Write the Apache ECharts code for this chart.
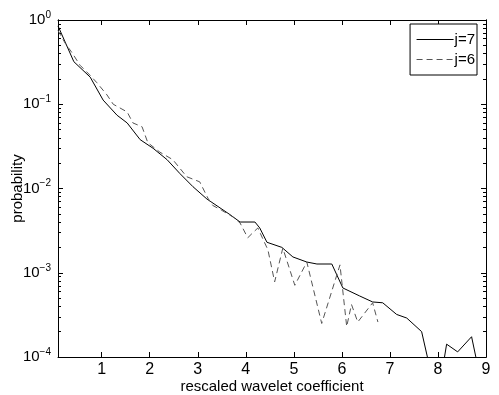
<!DOCTYPE html>
<html>
<head>
<meta charset="utf-8"/>
<title>ECharts</title>
<script src="https://cdn.jsdelivr.net/npm/echarts@6/dist/echarts.min.js"></script>
</head>
<body style="margin:0;background:#fff">
<div id="main" style="width:499px;height:395px;"></div>
<script type="text/javascript">
// values
var j7X = [0.09, 0.42, 0.76, 1.03, 1.32, 1.53, 1.80, 2.07, 2.36, 2.63, 2.90, 3.19, 3.67, 3.88, 4.19, 4.29, 4.44, 4.75, 4.98, 5.27, 5.48, 5.79, 6.02, 6.37, 6.64, 6.85, 7.14, 7.35, 7.66, 7.90, 8.05, 8.18, 8.41, 8.70, 8.90];
var j7Y = [0.85, 0.32, 0.21, 0.112, 0.074, 0.06, 0.038, 0.030, 0.022, 0.015, 0.0105, 0.0075, 0.0049, 0.0040, 0.0040, 0.0034, 0.0023, 0.0020, 0.00154, 0.00134, 0.00127, 0.00127, 0.00066, 0.00053, 0.00045, 0.00044, 0.00032, 0.00029, 0.0002, 0.00005, 0.00005, 0.000142, 0.000115, 0.000174, 0.00005];
var j6X = [0.09, 0.24, 0.38, 0.55, 0.76, 0.90, 1.11, 1.24, 1.53, 1.65, 1.84, 1.96, 2.21, 2.48, 2.77, 3.04, 3.21, 3.31, 3.50, 3.73, 3.88, 4.04, 4.15, 4.25, 4.46, 4.60, 4.77, 5.02, 5.27, 5.58, 5.96, 6.10, 6.20, 6.33, 6.64, 6.75];
var j6Y = [0.75, 0.53, 0.41, 0.29, 0.22, 0.18, 0.129, 0.10, 0.081, 0.060, 0.054, 0.035, 0.027, 0.022, 0.0138, 0.012, 0.0077, 0.0063, 0.0055, 0.0046, 0.0039, 0.0026, 0.0030, 0.0034, 0.00187, 0.00078, 0.00196, 0.00071, 0.00134, 0.00025, 0.00124, 0.00023, 0.00042, 0.00026, 0.00044, 0.00026];
var xTicks = [1, 2, 3, 4, 5, 6, 7, 8, 9];
var yMajor = [1e-4, 1e-3, 1e-2, 1e-1, 1];

var yMinor = [];
for (var d = -4; d < 0; d++) {
    for (var m = 2; m <= 9; m++) yMinor.push(m * Math.pow(10, d));
}

function pairs(xs, ys) {
    return xs.map(function (x, i) { return [x, ys[i]]; });
}

var font = "'Liberation Sans', Arial, sans-serif";

function xAx(pos, labels) {
    return {
        type: 'value', position: pos, min: 0.09, max: 9,
        splitLine: { show: false },
        axisLine: { show: true, onZero: false, lineStyle: { color: '#000', width: 1 } },
        axisTick: { inside: true, length: 5, customValues: xTicks, lineStyle: { color: '#000' } },
        axisLabel: {
            show: labels, customValues: xTicks, color: '#000', fontSize: 16,
            fontFamily: font, margin: 5
        },
        name: labels ? 'rescaled wavelet coefficient' : '',
        nameLocation: 'middle', nameGap: 22, nameMoveOverlap: false,
        nameTextStyle: { color: '#000', fontSize: 15, fontFamily: font }
    };
}

function yAx(pos, ticks, len, labels) {
    return {
        type: 'log', logBase: 10, position: pos, min: 1e-4, max: 1,
        splitLine: { show: false },
        axisLine: { show: true, lineStyle: { color: '#000', width: 1 } },
        axisTick: { inside: true, length: len, customValues: ticks, lineStyle: { color: '#000' } },
        axisLabel: {
            show: labels, customValues: yMajor, margin: 7,
            formatter: function (v) {
                var e = Math.round(Math.log10(v));
                return '{b|10}{s|' + (e < 0 ? '\u2212' + (-e) : e) + '}';
            },
            rich: {
                b: { fontSize: 15, color: '#000', fontFamily: font },
                s: { fontSize: 10, color: '#000', fontFamily: font, padding: [0, 0, 10, 0] }
            }
        },
        name: labels ? 'probability' : '',
        nameLocation: 'middle', nameGap: 33, nameMoveOverlap: false,
        nameTextStyle: { color: '#000', fontSize: 15, fontFamily: font }
    };
}

var option = {
    backgroundColor: '#fff',
    animation: false,
    grid: { left: 58, right: 13, top: 20, bottom: 38, outerBoundsMode: 'none', containLabel: false },
    legend: {
        right: 22, top: 24, orient: 'vertical',
        backgroundColor: '#fff', borderColor: '#000', borderWidth: 1,
        padding: [8, 2, 8, 6], itemGap: 5, itemWidth: 37, itemHeight: 13,
        itemStyle: { color: 'rgba(0,0,0,0)', borderWidth: 0 },
        lineStyle: { width: 1 },
        textStyle: { color: '#000', fontSize: 15, fontFamily: font, padding: [0, 0, 0, -4] },
        data: ['j=7', 'j=6']
    },
    xAxis: [xAx('bottom', true), xAx('top', false)],
    yAxis: [
        yAx('left', yMajor, 5, true),
        yAx('left', yMinor, 3, false),
        yAx('right', yMajor, 5, false),
        yAx('right', yMinor, 3, false)
    ],
    series: [
        {
            name: 'j=7', type: 'line', symbol: 'none', clip: true,
            data: pairs(j7X, j7Y),
            lineStyle: { color: '#000', width: 1 }, itemStyle: { color: '#000' }
        },
        {
            name: 'j=6', type: 'line', symbol: 'none', clip: true,
            data: pairs(j6X, j6Y),
            lineStyle: { color: '#555', width: 1, type: [6, 4] }, itemStyle: { color: '#555' }
        }
    ]
};

var myChart = echarts.init(document.getElementById('main'));
myChart.setOption(option);
</script>
</body>
</html>
